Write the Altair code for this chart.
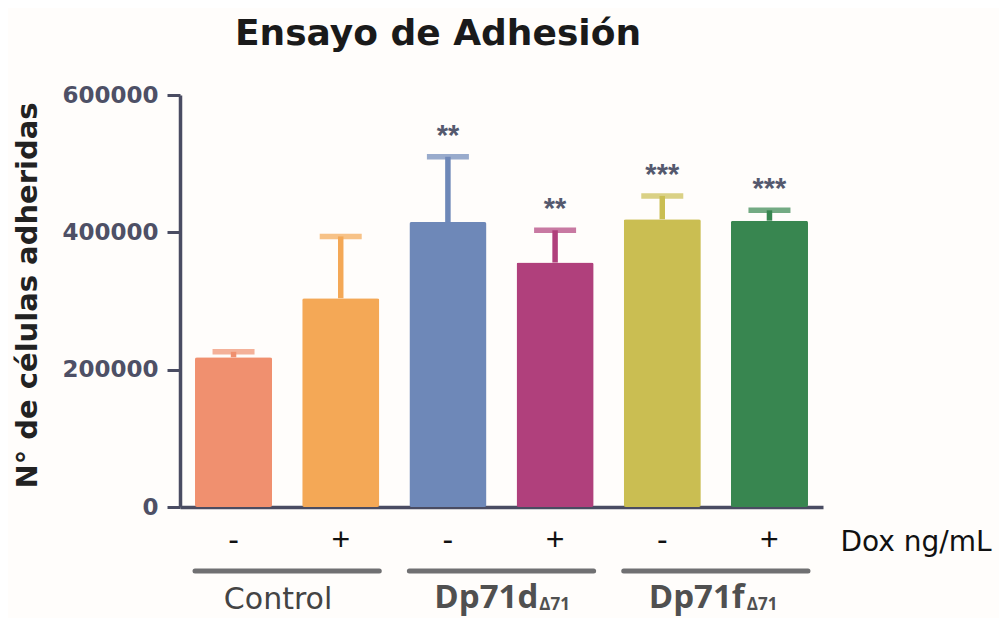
import altair as alt
import pandas as pd

# ---- data ----
title_text = "Ensayo de Adhesión"
groups = ["Control", "Control", "Dp71d", "Dp71d", "Dp71f", "Dp71f"]
dox = ["-", "+", "-", "+", "-", "+"]
means = [218000, 304000, 415000, 356000, 419000, 417000]
sem = [8000, 90000, 95000, 47000, 34000, 15000]
stars = ["", "", "**", "**", "***", "***"]
colors = ["#F0906F", "#F4A856", "#6E88B8", "#B0407C", "#CABE52", "#388650"]

group_names = ["Control", "Dp71d", "Dp71f"]
group_subs = ["", "Δ71", "Δ71"]

cats = [f"{g}|{d}" for g, d in zip(groups, dox)]
df = pd.DataFrame({
    "cat": cats,
    "mean": means,
    "upper": [m + s for m, s in zip(means, sem)],
    "stars": stars,
})
gdf = pd.DataFrame({
    "name": group_names,
    "sub": group_subs,
    "first": [cats[2 * i] for i in range(3)],
    "second": [cats[2 * i + 1] for i in range(3)],
})

AX = "#4a4c62"
xscale = alt.Scale(domain=cats, paddingInner=0.281, paddingOuter=0.14)
yscale = alt.Scale(domain=[0, 600000], nice=False)
cscale = alt.Scale(domain=cats, range=colors)

x = alt.X("cat:N", scale=xscale, sort=cats, axis=alt.Axis(
    title="Dox ng/mL", labelExpr="split(datum.label, '|')[1]", labelAngle=0,
    ticks=False, tickSize=0, labelPadding=42, labelBaseline="alphabetic",
    labelFont="Liberation Sans", labelFontSize=32, labelColor="#111111",
    domainColor=AX, domainWidth=3.5,
    titleFont="DejaVu Sans", titleFontSize=28, titleFontWeight="normal",
    titleColor="#111111", titleX=660, titleY=43, titleAlign="left",
    titleBaseline="alphabetic", titleAnchor="start"))
y = alt.Y("mean:Q", scale=yscale, axis=alt.Axis(
    title="N° de células adheridas", values=[0, 200000, 400000, 600000],
    format="d", grid=False, tickSize=13, tickWidth=3, tickColor=AX,
    domainColor=AX, domainWidth=3.5, labelPadding=9,
    labelFont="DejaVu Sans", labelFontSize=23, labelFontWeight="bold",
    labelColor="#4e5066",
    titleFont="DejaVu Sans", titleFontSize=29, titleFontWeight="bold",
    titleColor="#222222", titleX=-144, titleY=200, titleAlign="center",
    titleBaseline="alphabetic", titleAngle=-90))
color = alt.Color("cat:N", scale=cscale, legend=None)

base = alt.Chart(df)
bars = base.mark_bar(cornerRadius=2).encode(x=x, y=y, color=color)
err_line = base.mark_rule(strokeWidth=5.5).encode(
    x=alt.X("cat:N", scale=xscale, sort=cats),
    y=alt.Y("mean:Q", scale=yscale), y2="upper:Q", color=color)
err_cap = base.mark_tick(size=42, thickness=5.5, orient="horizontal").encode(
    x=alt.X("cat:N", scale=xscale, sort=cats),
    y=alt.Y("upper:Q", scale=yscale), color=color)
star_txt = base.transform_filter("datum.stars != ''").mark_text(
    font="Liberation Sans", fontSize=29, fontWeight="bold", color="#55596e",
    baseline="alphabetic", dy=-12).encode(
    x=alt.X("cat:N", scale=xscale, sort=cats),
    y=alt.Y("upper:Q", scale=yscale), text="stars:N")

gbase = alt.Chart(gdf)
glines = gbase.mark_rule(strokeWidth=5, color="#707072", strokeCap="round").encode(
    x=alt.X("first:N", scale=xscale, sort=cats, bandPosition=0),
    x2=alt.X2("second:N", bandPosition=1),
    y=alt.value(476))
ctrl_txt = gbase.transform_filter("datum.sub == ''").mark_text(
    font="DejaVu Sans", fontSize=30, color="#444444", align="center",
    baseline="alphabetic", dx=6).encode(
    x=alt.X("first:N", scale=xscale, sort=cats, bandPosition=1),
    y=alt.value(514), text="name:N")
dp_txt = gbase.transform_filter("datum.sub != ''").mark_text(
    font="Open Sans", fontSize=33, fontWeight="bold", color="#505050",
    align="left", baseline="alphabetic", dx=25).encode(
    x=alt.X("first:N", scale=xscale, sort=cats, bandPosition=0),
    y=alt.value(513), text="name:N")
sub_d = gbase.transform_filter("datum.name == 'Dp71d'").mark_text(
    font="Open Sans", fontSize=17, fontWeight="bold", color="#505050",
    align="left", baseline="alphabetic", dx=130).encode(
    x=alt.X("first:N", scale=xscale, sort=cats, bandPosition=0),
    y=alt.value(515), text="sub:N")
sub_f = gbase.transform_filter("datum.name == 'Dp71f'").mark_text(
    font="Open Sans", fontSize=17, fontWeight="bold", color="#505050",
    align="left", baseline="alphabetic", dx=123).encode(
    x=alt.X("first:N", scale=xscale, sort=cats, bandPosition=0),
    y=alt.value(515), text="sub:N")

title = alt.Chart(pd.DataFrame({"t": [title_text]})).mark_text(
    font="DejaVu Sans", fontSize=36, fontWeight="bold", color="#1a1a1a",
    align="center", baseline="alphabetic").encode(
    x=alt.value(258), y=alt.value(-50), text="t:N")

chart = alt.layer(bars, err_line, err_cap, star_txt, glines, ctrl_txt, dp_txt,
                  sub_d, sub_f, title).properties(
    width=643, height=412,
    autosize=alt.AutoSizeParams(type="none"),
    padding={"left": 172, "top": 87, "right": 176, "bottom": 111},
    background="#fffdfb",
).configure_view(stroke=None)

chart.save("out.html", embed_options={"renderer": "svg", "actions": False})
